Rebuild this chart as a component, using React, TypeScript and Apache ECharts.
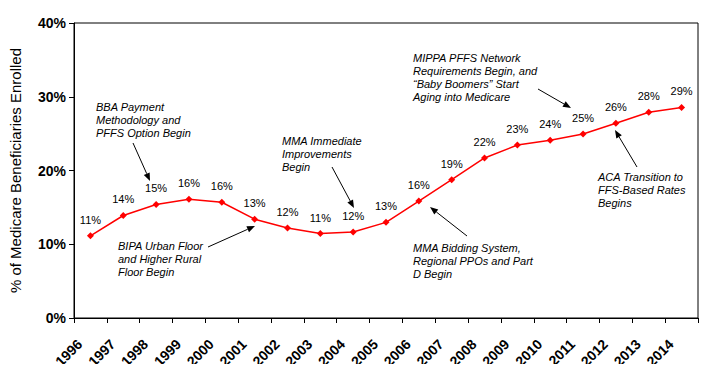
import React, { useEffect, useRef } from "react";
import * as echarts from "echarts";

const years = ["1996","1997","1998","1999","2000","2001","2002","2003","2004","2005","2006","2007","2008","2009","2010","2011","2012","2013","2014"];
const enrollmentPct = [11.15, 13.9, 15.4, 16.1, 15.7, 13.4, 12.2, 11.45, 11.65, 12.97, 15.86, 18.75, 21.7, 23.45, 24.1, 24.95, 26.4, 27.9, 28.55];
const yTicks = { min: 0, max: 40, interval: 10 };
const yAxisTitle = "% of Medicare Beneficiaries Enrolled";

const annotations = [
  { text: "BBA Payment\nMethodology and\nPFFS Option Begin", x: 96, y: 100, from: [133, 143], to: [150, 181] },
  { text: "BIPA Urban Floor\nand Higher Rural\nFloor Begin", x: 118, y: 239, from: [208, 247], to: [255, 226] },
  { text: "MMA Immediate\nImprovements\nBegin", x: 282, y: 134, from: [332, 167], to: [354, 208] },
  { text: "MMA Bidding System,\nRegional PPOs and Part\nD Begin", x: 413, y: 241, from: [467, 236], to: [430, 207] },
  { text: "MIPPA PFFS Network\nRequirements Begin, and\n\u201cBaby Boomers\u201d Start\nAging into Medicare", x: 413, y: 51, from: [538, 89], to: [571, 108] },
  { text: "ACA Transition to\nFFS-Based Rates\nBegins", x: 598, y: 170, from: [637, 167], to: [615, 130] },
];

const FONT = "'Liberation Sans', Arial, sans-serif";

function arrow(from: number[], to: number[]) {
  const [x1, y1] = from;
  const [x2, y2] = to;
  const ang = Math.atan2(y2 - y1, x2 - x1);
  const len = 8, w = 3.2;
  const bx = x2 - len * Math.cos(ang), by = y2 - len * Math.sin(ang);
  const px = -Math.sin(ang) * w, py = Math.cos(ang) * w;
  return [
    { type: "line", shape: { x1, y1, x2: bx, y2: by }, style: { stroke: "#000", lineWidth: 1 }, z: 10 },
    { type: "polygon", shape: { points: [[x2, y2], [bx + px, by + py], [bx - px, by - py]] }, style: { fill: "#000" }, z: 10 },
  ];
}

export default function App() {
  const ref = useRef<HTMLDivElement>(null);
  useEffect(() => {
    if (!ref.current) return;
    const chart = echarts.init(ref.current, null, { renderer: "svg" });
    const graphics: any[] = [];
    annotations.forEach((a) => {
      graphics.push({
        type: "text", x: a.x, y: a.y, z: 10,
        style: { text: a.text, font: `italic 11px ${FONT}`, fill: "#000", lineHeight: 13 },
      });
      graphics.push(...arrow(a.from, a.to));
    });
    chart.setOption({
      animation: false,
      backgroundColor: "#fff",
      grid: { left: 74, top: 23, right: 14, bottom: 54, show: true, borderColor: "#000", borderWidth: 1 },
      xAxis: {
        type: "category",
        data: years,
        boundaryGap: true,
        axisLine: { lineStyle: { color: "#000", width: 1 } },
        axisTick: { show: true, inside: false, length: 5, lineStyle: { color: "#000" } },
        axisLabel: { rotate: 45, margin: 13, padding: [0, 15, 0, 0], color: "#000", fontWeight: "bold", fontSize: 14, fontFamily: FONT, interval: 0 },
      },
      yAxis: {
        type: "value",
        min: yTicks.min, max: yTicks.max, interval: yTicks.interval,
        name: yAxisTitle,
        nameLocation: "middle",
        nameRotate: 90,
        nameGap: 51,
        nameTextStyle: { color: "#000", fontSize: 15, fontFamily: FONT },
        axisLine: { show: true, lineStyle: { color: "#000", width: 1 } },
        axisTick: { show: true, inside: false, length: 5, lineStyle: { color: "#000" } },
        splitLine: { show: false },
        axisLabel: { formatter: "{value}%", color: "#000", fontWeight: "bold", fontSize: 14, fontFamily: FONT, margin: 8 },
      },
      series: [
        {
          type: "line",
          data: enrollmentPct,
          symbol: "diamond",
          symbolSize: 7,
          lineStyle: { color: "#ff0000", width: 1.5 },
          itemStyle: { color: "#ff0000" },
          label: {
            show: true, position: "top", distance: 7,
            formatter: (p: any) => Math.round(p.value) + "%",
            color: "#000", fontSize: 11, fontFamily: FONT,
          },
        },
      ],
      graphic: graphics,
    });
    return () => chart.dispose();
  }, []);
  return <div ref={ref} style={{ width: 712, height: 372, margin: -8 }} />;
}
